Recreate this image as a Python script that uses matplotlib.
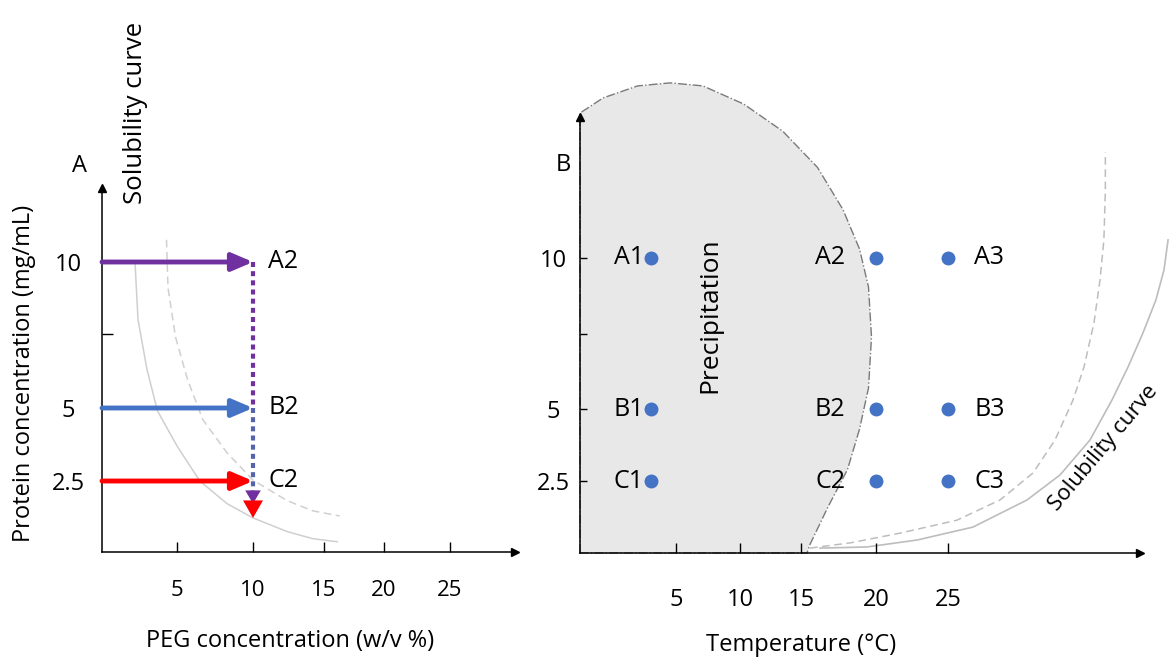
import numpy as np
import matplotlib.pyplot as plt

plt.rcParams['font.family'] = ['Open Sans', 'DejaVu Sans']

# ---- panel A: PEG concentration vs protein concentration ----
peg_ticks = [5, 10, 15, 20, 25]
protein_ticks = [2.5, 5, 7.5, 10]
protein_ticklabels = ['2.5', '5', '', '10']
peg_target = 10
start_conc = [10, 5, 2.5]
start_names = ['A2', 'B2', 'C2']
start_colors = ['#7030A0', '#4472C4', '#FF0000']

# solubility curves (PEG %, mg/mL)
solA_peg = [2.2, 2.4, 3.0, 3.7, 5.0, 6.5, 8.3, 10.0, 12.4, 14.2, 16.1]
solA_conc = [10.0, 8.0, 6.3, 4.9, 3.7, 2.5, 1.7, 1.2, 0.72, 0.47, 0.36]
solA2_peg = [4.3, 4.4, 4.9, 5.7, 6.7, 8.3, 10.0, 12.4, 14.2, 16.3]
solA2_conc = [10.75, 9.1, 7.4, 5.95, 4.6, 3.46, 2.53, 1.81, 1.45, 1.27]

# ---- panel B: temperature vs protein concentration ----
temp_ticks = [5, 10, 15, 20, 25]
temps = [3.7, 20, 25]
concs = [10, 5, 2.5]
point_names = [['A1', 'A2', 'A3'],
               ['B1', 'B2', 'B3'],
               ['C1', 'C2', 'C3']]

precip_temp = [0, 0, 1.2, 3.0, 4.7, 7.1, 10.3, 13.5, 16.1, 17.8, 18.9, 19.5,
               19.7, 19.5, 18.9, 18.1, 16.8, 15.6, 15.4]
precip_conc = [0, 14.8, 15.3, 15.7, 15.8, 15.7, 15.1, 14.2, 13.0, 11.6, 10.3, 9.05,
               7.4, 5.7, 4.3, 2.9, 1.6, 0.3, 0]

solB_temp = [16.27, 19.4, 22.85, 26.73, 30.47, 32.76, 34.83, 36.36, 37.47, 38.5,
             39.4, 39.96, 40.24]
solB_conc = [0.17, 0.21, 0.45, 0.90, 1.84, 2.71, 3.92, 5.3, 6.4, 7.53, 8.62, 9.61, 10.6]
solB2_temp = [15.6, 18.27, 21.67, 25.62, 28.6, 30.89, 32.41, 33.66, 34.42, 35.11,
              35.53, 35.8, 35.9, 35.9]
solB2_conc = [0.17, 0.35, 0.69, 1.14, 1.84, 2.78, 3.92, 5.3, 6.4, 7.86, 9.28, 10.6,
              12.25, 13.51]

W, H = 1169, 659


def box(x0, x1, ytop, ybot):
    return [x0 / W, 1 - ybot / H, (x1 - x0) / W, (ybot - ytop) / H]


def sketch_scale(vals, pos):
    # hand drawn axes: tick spacing is not even, so map values piecewise
    vals = np.asarray(vals, float)
    pos = np.asarray(pos, float)
    return (lambda v: np.interp(v, vals, pos),
            lambda p: np.interp(p, pos, vals))


def style_axes(ax):
    for s in ['top', 'right']:
        ax.spines[s].set_visible(False)
    for s in ['left', 'bottom']:
        ax.spines[s].set_linewidth(1.1)
    ax.patch.set_alpha(0)
    ax.plot(1, 0, '>k', ms=6, transform=ax.transAxes, clip_on=False)
    ax.plot(0, 1, '^k', ms=6, transform=ax.transAxes, clip_on=False)


fig = plt.figure(figsize=(W / 100, H / 100), dpi=100)

# ================= panel A =================
axA = fig.add_axes(box(102, 515, 188, 552))
axA.set_xscale('function', functions=sketch_scale(
    [-100, 0, 5, 10, 15, 20, 25, 30, 200],
    [-1400, 102, 177, 253, 324, 384, 450, 515, 2725]))
axA.set_yscale('function', functions=sketch_scale(
    [-100, 0, 2.5, 5, 7.5, 10, 12.5, 100],
    [-3310, -552, -481, -408, -334, -262, -188, 2380]))
axA.set_xlim(0, 30)
axA.set_ylim(0, 12.5)
style_axes(axA)

axA.set_xticks(peg_ticks, [str(t) for t in peg_ticks])
axA.set_yticks(protein_ticks, protein_ticklabels)
axA.tick_params(axis='x', direction='in', length=7, width=1, pad=20, labelsize=16)
axA.tick_params(axis='y', direction='in', length=8, width=1, pad=24, labelsize=17)
for lbl in axA.get_yticklabels():
    lbl.set_ha('center')
axA.minorticks_off()

axA.plot(solA_peg, solA_conc, color='#CFCFCF', lw=1.1, zorder=1)
axA.plot(solA2_peg, solA2_conc, color='#D0D0D0', lw=1.1, ls=(0, (5, 3)), zorder=1)

for c, name, col in zip(start_conc, start_names, start_colors):
    axA.annotate('', xy=(peg_target, c), xytext=(0, c),
                 arrowprops=dict(arrowstyle='-|>,head_length=0.7,head_width=0.3',
                                 color=col, lw=3.5, mutation_scale=18,
                                 shrinkA=0, shrinkB=0), zorder=4)
    axA.annotate(name, (peg_target, c), xytext=(11, 0), textcoords='offset points',
                 ha='left', va='center', fontsize=18)

# dotted drop at PEG 10 %
axA.plot([peg_target, peg_target], [start_conc[0], start_conc[1]], color='#7030A0',
         lw=3, ls=(0, (1.2, 1.0)), zorder=3)
axA.plot([peg_target, peg_target], [start_conc[1], 2.0], color='#5562AC',
         lw=3, ls=(0, (1.2, 1.0)), zorder=3)
axA.annotate('', xy=(peg_target, 1.7), xytext=(peg_target, 2.3),
             arrowprops=dict(arrowstyle='-|>,head_length=0.6,head_width=0.35',
                             color='#7030A0', lw=0, mutation_scale=16,
                             shrinkA=0, shrinkB=0), zorder=4)
axA.annotate('', xy=(peg_target, 1.2), xytext=(peg_target, 1.9),
             arrowprops=dict(arrowstyle='-|>,head_length=0.7,head_width=0.4',
                             color='#FF0000', lw=0, mutation_scale=18,
                             shrinkA=0, shrinkB=0), zorder=5)

axA.text(-0.055, 1.06, 'A', transform=axA.transAxes, ha='center', va='center', fontsize=17)
axA.text(0.082, 1.205, 'Solubility curve', transform=axA.transAxes, rotation=90,
         ha='center', va='center', fontsize=18.5)
axA.text(-0.189, 0.491, 'Protein concentration (mg/mL)', transform=axA.transAxes,
         rotation=90, ha='center', va='center', fontsize=17)
axA.text(0.455, -0.245, 'PEG concentration (w/v %)', transform=axA.transAxes,
         ha='center', va='center', fontsize=17)

# ================= panel B =================
axB = fig.add_axes(box(580, 1140, 117, 553))
axB.set_xscale('function', functions=sketch_scale(
    [-100, 0, 5, 10, 15, 20, 25, 38.3, 200],
    [-1340, 580, 676, 740, 801, 876, 948, 1140, 3479]))
axB.set_yscale('function', functions=sketch_scale(
    [-100, 0, 2.5, 5, 7.5, 10, 14.67, 100],
    [-3353, -553, -481, -409, -334, -258, -117, 2460]))
axB.set_xlim(0, 38.3)
axB.set_ylim(0, 14.67)
style_axes(axB)

axB.set_xticks(temp_ticks, [str(t) for t in temp_ticks])
axB.set_yticks(protein_ticks, protein_ticklabels)
axB.tick_params(axis='x', direction='in', length=7, width=1, pad=25, labelsize=17)
axB.tick_params(axis='y', direction='in', length=5, width=1, pad=19, labelsize=17)
for lbl in axB.get_yticklabels():
    lbl.set_ha('center')
axB.minorticks_off()

axB.fill(precip_temp, precip_conc, facecolor='#E8E8E8', edgecolor='#7A7A7A',
         lw=1, ls='-.', clip_on=False, zorder=0)
axB.plot(solB_temp, solB_conc, color='#BDBDBD', lw=1.2, clip_on=False, zorder=1)
axB.plot(solB2_temp, solB2_conc, color='#BDBDBD', lw=1.1, ls=(0, (5, 3)),
         clip_on=False, zorder=1)

label_offset = [(-5, 'right'), (-22, 'right'), (19, 'left')]
for i, c in enumerate(concs):
    for j, t in enumerate(temps):
        axB.plot(t, c, 'o', color='#4472C4', ms=9, zorder=5)
        dx, ha = label_offset[j]
        axB.annotate(point_names[i][j], (t, c), xytext=(dx, 0), textcoords='offset points',
                     ha=ha, va='center', fontsize=18)

axB.text(-0.03, 0.89, 'B', transform=axB.transAxes, ha='center', va='center', fontsize=17)
axB.text(0.232, 0.545, 'Precipitation', transform=axB.transAxes, rotation=90,
         ha='center', va='center', fontsize=19)
axB.text(0.395, -0.21, 'Temperature (°C)', transform=axB.transAxes,
         ha='center', va='center', fontsize=17)
axB.text(0.934, 0.24, 'Solubility curve', transform=axB.transAxes, rotation=50,
         ha='center', va='center', fontsize=16)

fig.savefig('out.png', dpi=100)
